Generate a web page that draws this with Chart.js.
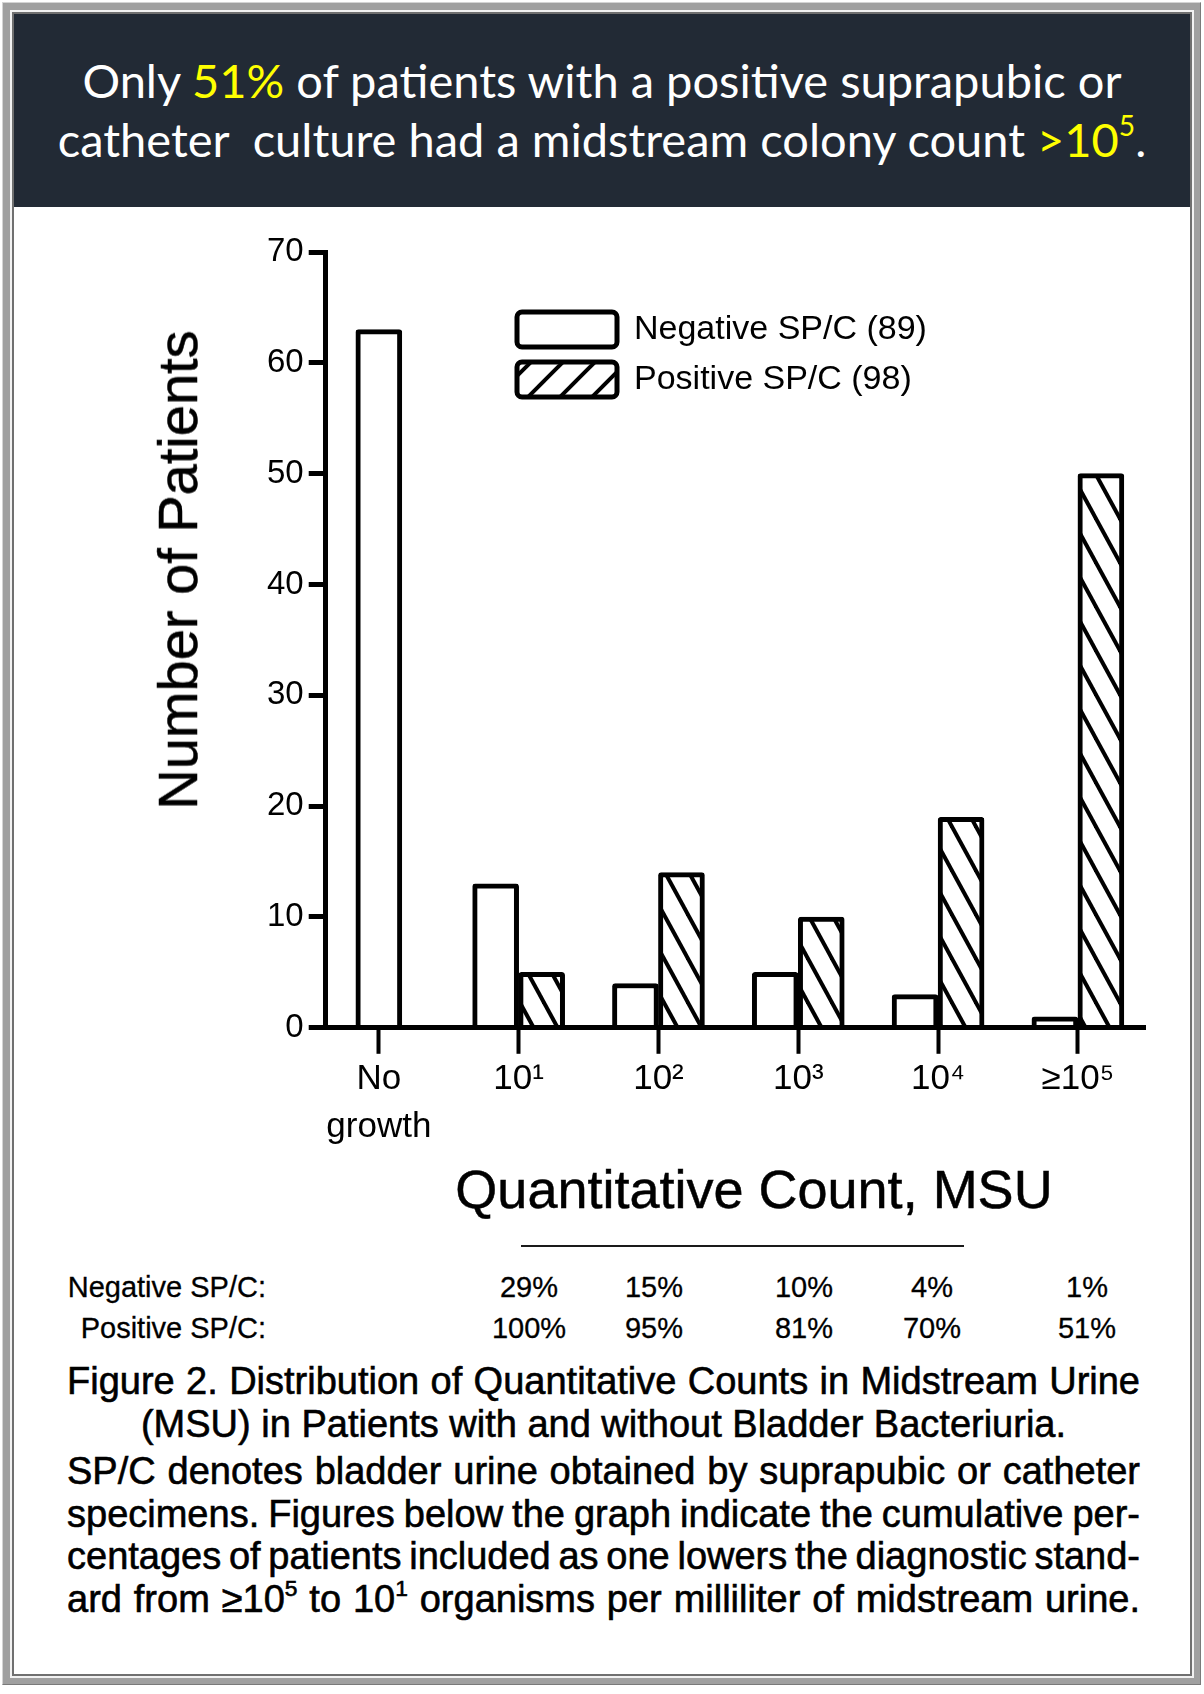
<!DOCTYPE html>
<html>
<head>
<meta charset="utf-8">
<script src="https://cdn.jsdelivr.net/npm/chart.js@4.4.1/dist/chart.umd.min.js"></script>
<style>
  html, body { margin: 0; padding: 0; }
  body { width: 1204px; height: 1694px; position: relative; overflow: hidden; background: #fff;
         font-family: "Liberation Sans", Arial, sans-serif; color: #000; }
  .abs { position: absolute; }
  .f1 { left: 2px; top: 2px; width: 1199px; height: 1683px; box-sizing: border-box; background: #a0a0a0;
        border-top: 1px solid #d4d4d4; border-left: 1px solid #d4d4d4; border-right: 1px solid #7a7a7a; border-bottom: 1px solid #7a7a7a; }
  .f2 { left: 10px; top: 10px; width: 1184px; height: 1668px; background: #f2f2f2; }
  .f3 { left: 12px; top: 12px; width: 1180px; height: 1664px; background: #707070; }
  .content { left: 14px; top: 14px; width: 1176px; height: 1660px; background: #fff; }
  .header { left: 14px; top: 14px; width: 1176px; height: 193px; background: #222a35; }
  .t { left: 14px; width: 1176px; text-align: center; font-family: Lato, "Open Sans", sans-serif; font-size: 47px;
       line-height: 60px; color: #fff; white-space: pre; }
  .t1 { top: 50px; }
  .t2 { top: 109px; }
  .hl { color: #ffff00; }
  .t sup { font-size: 0.6em; vertical-align: 0.75em; line-height: 0; }
  #c { left: 14px; top: 207px; }
  .ytitle { left: 178px; top: 570px; font-size: 56px; line-height: 1; white-space: nowrap;
            transform: translate(-50%, -50%) rotate(-90deg); -webkit-text-stroke: 0.5px #000; }
  .xtitle { left: 754px; top: 1189px; font-size: 54px; line-height: 1; white-space: nowrap;
            transform: translate(-50%, -50%); -webkit-text-stroke: 0.5px #000; }
  .rule { left: 521px; top: 1245px; width: 443px; height: 2px; background: #1a1a1a; }
  .cum { font-size: 29px; line-height: 34px; white-space: nowrap; -webkit-text-stroke: 0.3px #000; }
  .cap { left: 67px; width: 1073px; font-size: 38px; white-space: nowrap; -webkit-text-stroke: 0.6px #000; }
  .cap div { height: 43px; line-height: 43px; }
  .cap .c2 { text-align: center; }
  .par { top: 1450px; }
  .par div { height: 42.5px; line-height: 42.5px; }
  .jl { display: inline-block; white-space: nowrap; }
  .cap sup { font-size: 0.6em; vertical-align: 0.7em; line-height: 0; }
</style>
</head>
<body>
<div class="abs f1"></div>
<div class="abs f2"></div>
<div class="abs f3"></div>
<div class="abs content"></div>
<div class="abs header"></div>
<div class="abs t t1">Only <span class="hl">51%</span> of patients with a positive suprapubic or</div>
<div class="abs t t2">catheter  culture had a midstream colony count <span class="hl">&gt;10<sup>5</sup></span>.</div>

<canvas id="c" class="abs" width="1176" height="960" style="width:1176px;height:960px;"></canvas>
<div class="abs ytitle">Number of Patients</div>
<div class="abs xtitle">Quantitative Count, MSU</div>
<div class="abs rule"></div>
<div id="cumTable"></div>

<div class="abs cap" style="top:1359.5px;">
  <div><span class="jl">Figure 2. Distribution of Quantitative Counts in Midstream Urine</span></div>
  <div class="c2">(MSU) in Patients with and without Bladder Bacteriuria.</div>
</div>
<div class="abs cap par">
  <div><span class="jl">SP/C denotes bladder urine obtained by suprapubic or catheter</span></div>
  <div><span class="jl">specimens. Figures below the graph indicate the cumulative per-</span></div>
  <div><span class="jl">centages of patients included as one lowers the diagnostic stand-</span></div>
  <div><span class="jl">ard from ≥10<sup>5</sup> to 10<sup>1</sup> organisms per milliliter of midstream urine.</span></div>
</div>

<script>
// data
const categories = ['No growth', '10¹', '10²', '10³', '10⁴', '≥10⁵'];
const tickLabels = [['No', 'growth'], '10¹', '10²', '10³', '10⁴', '≥10⁵'];
const negativeSPC = [63, 13, 4, 5, 3, 1];
const positiveSPC = [null, 5, 14, 10, 19, 50];
const seriesNames = ['Negative SP/C (89)', 'Positive SP/C (98)'];

// cumulative percentages printed under the graph
const cumRowNames = ['Negative SP/C:', 'Positive SP/C:'];
const negativeCum = ['29%', '15%', '10%', '4%', '1%'];
const positiveCum = ['100%', '95%', '81%', '70%', '51%'];

/* table under the graph */
const colX = [529, 654, 804, 932, 1087];
const rowY = [1270, 1311];
const table = document.getElementById('cumTable');
[negativeCum, positiveCum].forEach(function(row, r) {
  const name = document.createElement('div');
  name.className = 'abs cum';
  name.style.right = (1204 - 266) + 'px';
  name.style.top = rowY[r] + 'px';
  name.textContent = cumRowNames[r];
  table.appendChild(name);
  row.forEach(function(txt, i) {
    const d = document.createElement('div');
    d.className = 'abs cum';
    d.style.left = colX[i] + 'px';
    d.style.top = rowY[r] + 'px';
    d.style.transform = 'translateX(-50%)';
    d.textContent = txt;
    table.appendChild(d);
  });
});

/* spread the justified caption lines to full width */
function justifyLines() {
  document.querySelectorAll('.jl').forEach(function(el) {
    el.style.wordSpacing = '0px';
    const w = el.getBoundingClientRect().width;
    const gaps = (el.textContent.match(/ /g) || []).length;
    if (gaps) el.style.wordSpacing = ((1073 - w) / gaps) + 'px';
  });
}
justifyLines();
if (document.fonts) document.fonts.ready.then(justifyLines);

/* hatch fills */
function hatch(w, h, back) {
  const cv = document.createElement('canvas');
  cv.width = w; cv.height = h;
  const g = cv.getContext('2d');
  g.fillStyle = '#fff';
  g.fillRect(0, 0, w, h);
  g.strokeStyle = '#000';
  g.lineWidth = 4;
  [-w, 0, w].forEach(function(dx) {
    g.beginPath();
    if (back) { g.moveTo(dx - w, -h); g.lineTo(dx + 2 * w, 2 * h); }
    else { g.moveTo(dx - w, 2 * h); g.lineTo(dx + 2 * w, -h); }
    g.stroke();
  });
  return g.createPattern(cv, 'repeat');
}
const barHatch = hatch(24, 44, true);
const keyHatch = hatch(32, 32, false);

Chart.defaults.font.family = '"Liberation Sans", Arial, sans-serif';
Chart.defaults.color = '#000';

// move the legend to where the figure has it
const legendSpot = {
  id: 'legendSpot',
  afterLayout(chart) {
    const lg = chart.legend;
    lg.left = 488; lg.top = 90;
    lg.right = lg.left + 520; lg.bottom = lg.top + 200;
  }
};

new Chart(document.getElementById('c'), {
  type: 'bar',
  data: {
    datasets: [
      {
        label: seriesNames[0],
        data: negativeSPC.map(function(v, i) { return { x: i, y: v }; }),
        backgroundColor: '#fff', borderColor: '#000', borderWidth: 5, borderRadius: 3,
        barThickness: 46, skipNull: true
      },
      {
        label: seriesNames[1],
        data: positiveSPC.map(function(v, i) { return { x: i, y: v }; }),
        backgroundColor: barHatch, borderColor: '#000', borderWidth: 5, borderRadius: 3,
        barThickness: 46, skipNull: true
      }
    ]
  },
  options: {
    responsive: false,
    animation: false,
    devicePixelRatio: 1,
    layout: { padding: { left: 248, top: 45, right: 45, bottom: 14 } },
    scales: {
      x: {
        type: 'linear', min: -0.38, max: 5.48, offset: false,
        afterBuildTicks: function(scale) {
          scale.ticks = categories.map(function(c, i) { return { value: i }; });
        },
        grid: { offset: false, drawOnChartArea: false, tickLength: 26, tickWidth: 4, tickColor: '#000' },
        border: { color: '#000', width: 5, z: 1 },
        ticks: {
          autoSkip: false, maxRotation: 0, padding: 2, color: '#000',
          font: { size: 35, lineHeight: 1.36 },
          callback: function(v) { return tickLabels[v]; }
        }
      },
      y: {
        min: 0, max: 70,
        grid: { drawOnChartArea: false, tickLength: 17, tickWidth: 5, tickColor: '#000' },
        border: { color: '#000', width: 5, z: 1 },
        ticks: { stepSize: 10, padding: 5, color: '#000', font: { size: 33 } }
      }
    },
    plugins: {
      tooltip: { enabled: false },
      legend: {
        position: 'chartArea',
        align: 'start',
        onClick: null,
        labels: {
          boxWidth: 100, boxHeight: 35, padding: 15, color: '#000',
          font: { size: 34 },
          useBorderRadius: true, borderRadius: 5,
          generateLabels: function(chart) {
            const items = Chart.defaults.plugins.legend.labels.generateLabels(chart);
            items.forEach(function(it) { it.lineWidth = 5; it.strokeStyle = '#000'; });
            items[1].fillStyle = keyHatch;
            return items;
          }
        }
      }
    }
  },
  plugins: [legendSpot]
});
</script>
</body>
</html>
